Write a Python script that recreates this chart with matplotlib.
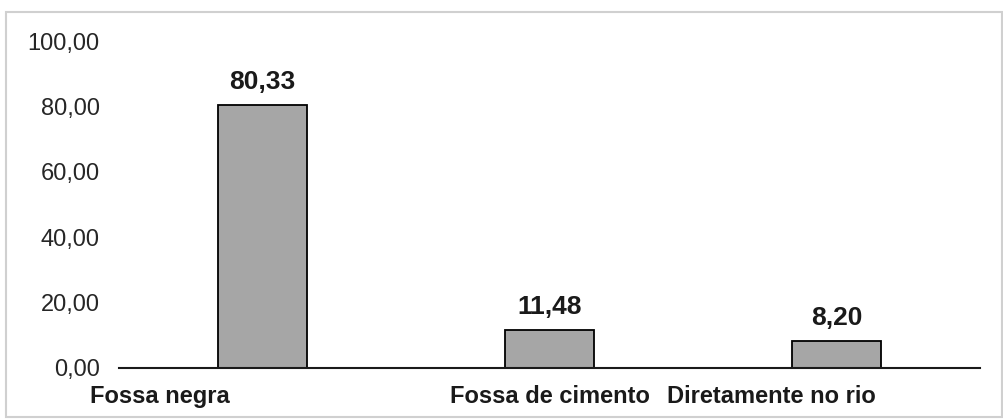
import matplotlib.pyplot as plt
import matplotlib.transforms as mtransforms
from matplotlib.patches import Rectangle

plt.rcParams['font.family'] = ['Liberation Sans', 'DejaVu Sans']

# Destino do esgoto (%)
categorias = ['Fossa negra', 'Fossa de cimento', 'Diretamente no rio']
percentuais = [80.33, 11.48, 8.20]
yticks = [0, 20, 40, 60, 80, 100]

fig = plt.figure(figsize=(10.04, 4.19), dpi=100)
ax = fig.add_axes([0.1185, 0.122, 0.8575, 0.780])

x = range(len(categorias))
bars = ax.bar(x, percentuais, width=0.31, color='#a6a6a6', edgecolor='black', linewidth=1.3)

# rótulos de valor com vírgula decimal
for b, v in zip(bars, percentuais):
    ax.annotate(f'{v:.2f}'.replace('.', ','), (b.get_x() + b.get_width() / 2, v),
                xytext=(0, 8), textcoords='offset points', ha='center', va='bottom',
                fontsize=19, fontweight='bold', color='#1a1a1a')

ax.set_xlim(-0.5, 2.5)
ax.set_ylim(0, 100)
ax.set_yticks(yticks)
ax.set_yticklabels([f'{t:.2f}'.replace('.', ',') for t in yticks], fontsize=17, color='#262626')
ax.set_xticks(list(x))
ax.set_xticklabels(categorias, fontsize=17, fontweight='bold', color='#1a1a1a')
ax.tick_params(axis='y', length=0, pad=14)
ax.tick_params(axis='x', length=0, pad=12)

# deslocamento horizontal dos rótulos do eixo x
shifts = [-103, 0, -65]
for lbl, dx in zip(ax.get_xticklabels(), shifts):
    lbl.set_transform(lbl.get_transform() + mtransforms.ScaledTranslation(dx / 100, 0, fig.dpi_scale_trans))

for side in ['top', 'right', 'left']:
    ax.spines[side].set_visible(False)
ax.spines['bottom'].set_linewidth(1.5)
ax.spines['bottom'].set_color('#1a1a1a')

# moldura da figura
fig.patches.append(Rectangle((0.006, 0.005), 0.992, 0.966, transform=fig.transFigure,
                             fill=False, edgecolor='#d0d0d0', linewidth=1.5))

plt.savefig('out.png', dpi=100)
